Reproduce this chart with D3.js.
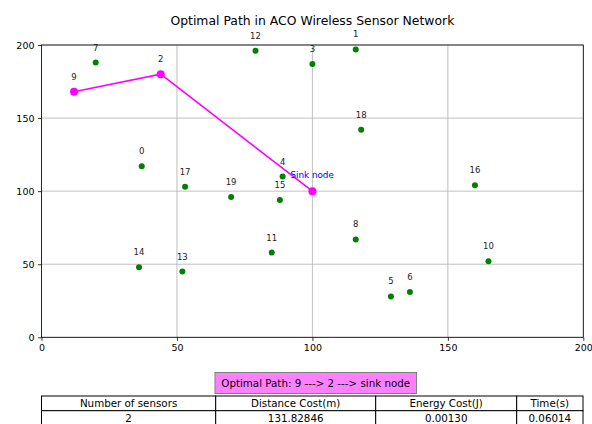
<!DOCTYPE html>
<html>
<head>
<meta charset="utf-8">
<script src="https://cdn.jsdelivr.net/npm/d3@7/dist/d3.min.js"></script>
<style>
  html, body { margin: 0; padding: 0; background: #fff; }
  svg { display: block; font-family: "DejaVu Sans", sans-serif; }
</style>
</head>
<body>
<svg id="chart" width="592" height="424"></svg>
<script>
// Sensor node ids and coordinates (metres)
const nodeIds = [0, 1, 2, 3, 4, 5, 6, 7, 8, 9, 10, 11, 12, 13, 14, 15, 16, 17, 18, 19];
const nodeX   = [37, 116, 44, 100, 89, 129, 136, 20, 116, 12, 165, 85, 79, 52, 36, 88, 160, 53, 118, 70];
const nodeY   = [117, 197, 180, 187, 110, 28, 31, 188, 67, 168, 52, 58, 196, 45, 48, 94, 104, 103, 142, 96];

// Sink location and the optimal route found by the colony
const sinkX = 100;
const sinkY = 100;
const pathNodes = [9, 2];

// Axis ticks
const xTicks = [0, 50, 100, 150, 200];
const yTicks = [0, 50, 100, 150, 200];

// Summary table
const tableHeaders = ["Number of sensors", "Distance Cost(m)", "Energy Cost(J)", "Time(s)"];
const tableValues  = ["2", "131.82846", "0.00130", "0.06014"];
const pathLabel = "Optimal Path: 9 ---> 2 ---> sink node";

const svg = d3.select("#chart");
const plot = { left: 41.5, right: 583.3, top: 45, bottom: 337.3 };

const x = d3.scaleLinear().domain([0, 200]).range([plot.left, plot.right]);
const y = d3.scaleLinear().domain([0, 200]).range([plot.bottom, plot.top]);

// Grid
const grid = svg.append("g").attr("stroke", "#b0b0b0").attr("stroke-width", 0.8);
grid.selectAll("line.gx").data(xTicks).join("line")
  .attr("x1", d => x(d)).attr("x2", d => x(d))
  .attr("y1", plot.top).attr("y2", plot.bottom);
grid.selectAll("line.gy").data(yTicks).join("line")
  .attr("x1", plot.left).attr("x2", plot.right)
  .attr("y1", d => y(d)).attr("y2", d => y(d));

// Axes
const xAxis = d3.axisBottom(x).tickValues(xTicks).tickSize(3.5).tickPadding(3.5).tickFormat(d3.format("d"));
const yAxis = d3.axisLeft(y).tickValues(yTicks).tickSize(3.5).tickPadding(3.5).tickFormat(d3.format("d"));

const gx = svg.append("g").attr("transform", `translate(0,${plot.bottom})`).call(xAxis);
const gy = svg.append("g").attr("transform", `translate(${plot.left},0)`).call(yAxis);
[gx, gy].forEach(g => {
  g.select(".domain").remove();
  g.selectAll(".tick line").attr("stroke", "#000").attr("stroke-width", 0.8);
  g.selectAll(".tick text").attr("fill", "#000").attr("font-size", "9.5px")
    .attr("font-family", "DejaVu Sans, sans-serif");
});

// Frame
svg.append("rect")
  .attr("x", plot.left).attr("y", plot.top)
  .attr("width", plot.right - plot.left).attr("height", plot.bottom - plot.top)
  .attr("fill", "none").attr("stroke", "#000").attr("stroke-width", 0.8);

// Sensor nodes
const nodes = nodeIds.map((id, i) => ({ id, x: nodeX[i], y: nodeY[i] }));
svg.append("g").selectAll("circle").data(nodes).join("circle")
  .attr("cx", d => x(d.x)).attr("cy", d => y(d.y)).attr("r", 3)
  .attr("fill", "#008000");

svg.append("g").selectAll("text").data(nodes).join("text")
  .attr("x", d => x(d.x)).attr("y", d => y(d.y) - 12)
  .attr("text-anchor", "middle").attr("font-size", "8.5px").attr("fill", "#222")
  .text(d => d.id);

// Optimal path
const route = pathNodes.map(id => ({ x: nodeX[id], y: nodeY[id] })).concat([{ x: sinkX, y: sinkY }]);
svg.append("path")
  .datum(route)
  .attr("d", d3.line().x(d => x(d.x)).y(d => y(d.y)))
  .attr("fill", "none").attr("stroke", "#ff00ff").attr("stroke-width", 1.6);
svg.append("g").selectAll("circle").data(route).join("circle")
  .attr("cx", d => x(d.x)).attr("cy", d => y(d.y)).attr("r", 4)
  .attr("fill", "#ff00ff");

// Sink label
svg.append("text")
  .attr("x", x(sinkX) - 22).attr("y", y(sinkY) - 13)
  .attr("font-size", "8.8px").attr("fill", "#0000ff")
  .text("Sink node");

// Title
svg.append("text")
  .attr("x", (plot.left + plot.right) / 2).attr("y", 25)
  .attr("text-anchor", "middle").attr("font-size", "12.4px").attr("fill", "#000")
  .text("Optimal Path in ACO Wireless Sensor Network");

// Route caption box
svg.append("rect")
  .attr("x", 215).attr("y", 372.5).attr("width", 201.5).attr("height", 21)
  .attr("fill", "#ff80ff").attr("stroke", "#7f7f7f").attr("stroke-width", 1);
svg.append("text")
  .attr("x", 315.7).attr("y", 386.7).attr("text-anchor", "middle")
  .attr("font-size", "10.3px").attr("fill", "#000")
  .text(pathLabel);

// Summary table
const colEdges = [41.5, 215.7, 375.7, 516.7, 583];
const rowEdges = [396, 410.7, 425.4];
const table = svg.append("g");
[tableHeaders, tableValues].forEach((row, r) => {
  row.forEach((cell, c) => {
    table.append("rect")
      .attr("x", colEdges[c]).attr("y", rowEdges[r])
      .attr("width", colEdges[c + 1] - colEdges[c]).attr("height", rowEdges[r + 1] - rowEdges[r])
      .attr("fill", "#fff").attr("stroke", "#000").attr("stroke-width", 1);
    table.append("text")
      .attr("x", (colEdges[c] + colEdges[c + 1]) / 2)
      .attr("y", rowEdges[r] + 11)
      .attr("text-anchor", "middle").attr("font-size", "10.3px").attr("fill", "#000")
      .text(cell);
  });
});
</script>
</body>
</html>
